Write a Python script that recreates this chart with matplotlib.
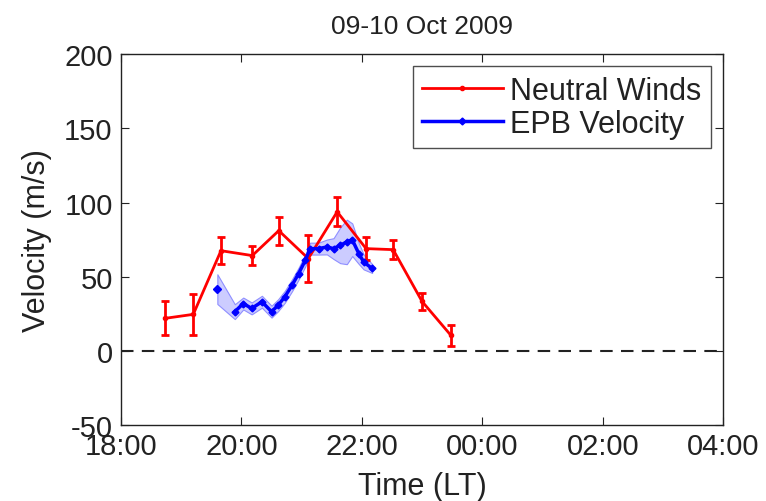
import matplotlib
matplotlib.use("Agg")
import matplotlib.pyplot as plt
import numpy as np

plt.rcParams["font.family"] = ["Liberation Sans", "DejaVu Sans"]
plt.rcParams["axes.unicode_minus"] = False

# Neutral winds (local time in hours, 24+ = after midnight)
wind_time = [18.73, 19.20, 19.66, 20.18, 20.62, 21.11, 21.59, 22.07, 22.52, 23.00, 23.48]
wind_vel = [22.0, 24.7, 67.6, 64.3, 81.1, 62.3, 93.8, 69.0, 68.3, 33.4, 10.5]
wind_err = [11.4, 13.8, 9.1, 6.4, 9.4, 15.8, 9.7, 8.0, 6.4, 5.7, 7.0]

# EPB drift velocity with spread band
epb_time = [19.60, 19.89, 20.03, 20.17, 20.34, 20.50, 20.61, 20.72, 20.84, 20.95,
            21.06, 21.14, 21.28, 21.42, 21.53, 21.64, 21.75, 21.84, 21.95, 22.03, 22.17]
epb_vel = [41.7, 26.5, 32.0, 28.7, 33.2, 26.5, 30.9, 36.5, 44.3, 52.2,
           61.0, 69.0, 69.0, 70.1, 69.0, 71.2, 73.5, 75.0, 65.6, 60.0, 55.6]
epb_err = [10, 5, 4, 4, 4, 4, 4, 4, 4, 4,
           4, 4, 4, 5, 7, 12, 15, 11, 7, 5, 3]

x_ticks = [18, 20, 22, 24, 26, 28]
x_labels = ["18:00", "20:00", "22:00", "00:00", "02:00", "04:00"]
y_ticks = [-50, 0, 50, 100, 150, 200]

TEXT = "#222222"


def main() -> None:
    fig = plt.figure(figsize=(7.66, 5.02), dpi=100)
    ax = fig.add_axes([0.158, 0.151, 0.786, 0.739])

    t = np.array(epb_time)
    v = np.array(epb_vel)
    e = np.array(epb_err)
    ax.fill_between(t, v - e, v + e, facecolor="#ccccff", edgecolor="#8f8fff",
                    linewidth=0.8, zorder=1)

    ax.axhline(0, color=TEXT, linestyle=(0, (6, 4)), linewidth=1.5, zorder=1)

    ax.errorbar(wind_time, wind_vel, yerr=wind_err, color="red", linewidth=2,
                elinewidth=2, capsize=3, capthick=2, marker=".", markersize=6,
                zorder=2)
    ax.plot([], [], color="red", linewidth=2, marker=".", markersize=6,
            label="Neutral Winds")

    # first EPB point is isolated (gap before the continuous track)
    ax.plot(t[:1], v[:1], color="blue", linestyle="none", marker="D",
            markersize=4, zorder=3)
    ax.plot(t[1:], v[1:], color="blue", linewidth=2.5, marker="D",
            markersize=3.5, zorder=3, label="EPB Velocity")

    ax.set_xlim(18, 28)
    ax.set_ylim(-50, 200)
    ax.set_xticks(x_ticks)
    ax.set_xticklabels(x_labels)
    ax.set_yticks(y_ticks)
    ax.tick_params(direction="in", top=True, right=True, length=6,
                   labelsize=21, colors=TEXT)
    ax.tick_params(axis="x", pad=5)
    ax.tick_params(axis="y", pad=6)
    for s in ax.spines.values():
        s.set_color(TEXT)
        s.set_linewidth(1)

    ax.set_title("09-10 Oct 2009", fontsize=19, color=TEXT, pad=15)
    ax.set_xlabel("Time (LT)", fontsize=22, color=TEXT, labelpad=8)
    ax.set_ylabel("Velocity (m/s)", fontsize=22, color=TEXT, labelpad=9)

    leg = ax.legend(loc="upper right", fontsize=22, frameon=True, fancybox=False,
                    edgecolor=TEXT, handlelength=2.65, handletextpad=0.25,
                    borderpad=0.3, labelspacing=0.1, borderaxespad=0.4)
    leg.get_frame().set_linewidth(1)
    for txt in leg.get_texts():
        txt.set_color(TEXT)

    fig.savefig("out.png", dpi=100)
    plt.close(fig)


if __name__ == "__main__":
    main()
